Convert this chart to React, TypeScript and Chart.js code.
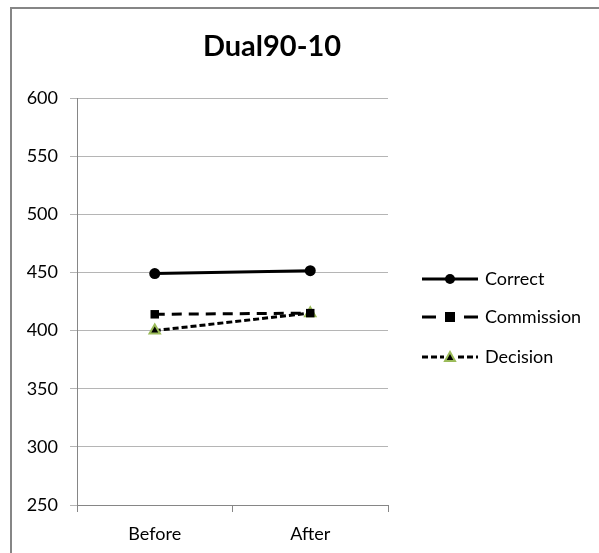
import React, { useEffect, useRef } from "react";
import { Chart, registerables } from "chart.js";

Chart.register(...registerables);

const categories = ["Before", "After"];
const correctValues = [449, 451.5];
const commissionValues = [414, 415];
const decisionValues = [400, 415];
const yTicks = { min: 250, max: 600, step: 50 };
const titleText = "Dual90-10";

const FONT = "Lato, 'Open Sans', sans-serif";

const framePlugin = {
  id: "frame",
  beforeDraw(chart: any) {
    const ctx = chart.ctx;
    ctx.save();
    ctx.fillStyle = "#ffffff";
    ctx.fillRect(0, 0, chart.width, chart.height);
    ctx.fillStyle = "#868686";
    ctx.fillRect(10, 7, 2, chart.height - 7);
    ctx.fillRect(10, 7, chart.width - 10, 2);
    ctx.restore();
  },
  afterDraw(chart: any) {
    const ctx = chart.ctx;
    ctx.save();
    ctx.fillStyle = "#000";
    ctx.font = `bold 29px ${FONT}`;
    ctx.textAlign = "center";
    ctx.textBaseline = "middle";
    ctx.fillText(titleText, 272, 47);

    const rows = [279, 317, 357];
    chart.data.datasets.forEach((ds: any, i: number) => {
      const y = rows[i];
      ctx.save();
      ctx.strokeStyle = ds.borderColor;
      ctx.lineWidth = ds.borderWidth;
      ctx.setLineDash(ds.legendDash || []);
      if (ds.legendMode === "split") {
        ctx.beginPath();
        ctx.moveTo(422, y);
        ctx.lineTo(436, y);
        ctx.moveTo(464, y);
        ctx.lineTo(478, y);
        ctx.stroke();
      } else {
        ctx.beginPath();
        ctx.moveTo(422, y);
        ctx.lineTo(478, y);
        ctx.stroke();
        if (ds.legendMode === "gap") {
          ctx.fillStyle = "#fff";
          ctx.fillRect(444, y - 7, 12, 14);
        }
      }
      ctx.setLineDash([]);
      ctx.fillStyle = ds.pointBackgroundColor;
      ctx.strokeStyle = ds.pointBorderColor;
      ctx.lineWidth = ds.pointBorderWidth;
      if (ds.pointStyle === "circle") {
        ctx.beginPath();
        ctx.arc(450, y, 5, 0, Math.PI * 2);
        ctx.fill();
      } else if (ds.pointStyle === "rect") {
        ctx.fillRect(445, y - 5, 10, 10);
      } else {
        ctx.beginPath();
        ctx.moveTo(450, y - 5);
        ctx.lineTo(455, y + 4);
        ctx.lineTo(445, y + 4);
        ctx.closePath();
        ctx.fill();
        ctx.stroke();
      }
      ctx.restore();
      ctx.fillStyle = "#000";
      ctx.font = `18px ${FONT}`;
      ctx.textAlign = "left";
      ctx.textBaseline = "middle";
      ctx.fillText(ds.label, 485, y);
    });
    ctx.restore();
  },
};

export default function App() {
  const ref = useRef<HTMLCanvasElement | null>(null);
  useEffect(() => {
    if (!ref.current) return;
    const chart = new Chart(ref.current, {
      type: "line",
      data: {
        labels: categories,
        datasets: [
          {
            label: "Correct",
            data: correctValues,
            borderColor: "#000",
            borderWidth: 3,
            pointStyle: "circle",
            pointRadius: 5.5,
            pointBackgroundColor: "#000",
            pointBorderColor: "#000",
            pointBorderWidth: 0,
            legendDash: [],
            legendMode: "solid",
          } as any,
          {
            label: "Commission",
            data: commissionValues,
            borderColor: "#000",
            borderWidth: 3,
            borderDash: [10, 7],
            pointStyle: "rect",
            pointRadius: 6,
            pointBackgroundColor: "#000",
            pointBorderColor: "#000",
            pointBorderWidth: 0,
            legendDash: [],
            legendMode: "split",
          } as any,
          {
            label: "Decision",
            data: decisionValues,
            borderColor: "#000",
            borderWidth: 3,
            borderDash: [6, 3],
            pointStyle: "triangle",
            pointRadius: 6,
            pointBackgroundColor: "#000",
            pointBorderColor: "#9BBB59",
            pointBorderWidth: 2,
            legendDash: [6, 3],
            legendMode: "gap",
          } as any,
        ],
      },
      options: {
        animation: false,
        responsive: false,
        maintainAspectRatio: false,
        layout: { padding: { left: 0, top: 98, right: 211, bottom: 0 } },
        plugins: {
          legend: { display: false },
          title: { display: false },
          tooltip: { enabled: false },
        },
        scales: {
          x: {
            afterFit: (s: any) => {
              s.height = 48;
            },
            offset: true,
            grid: {
              drawOnChartArea: false,
              drawTicks: true,
              tickLength: 7,
              color: "#868686",
              offset: true,
            },
            border: { display: true, color: "#868686", width: 1 },
            ticks: { color: "#000", font: { family: FONT, size: 18 }, padding: 11 },
          },
          y: {
            min: yTicks.min,
            max: yTicks.max,
            afterFit: (s: any) => {
              s.width = 77;
            },
            grid: { color: "#b5b5b5", tickLength: 7, drawTicks: true },
            border: { display: true, color: "#868686", width: 1 },
            ticks: {
              stepSize: yTicks.step,
              color: "#000",
              font: { family: FONT, size: 18 },
              padding: 12,
            },
          },
        },
      },
      plugins: [framePlugin],
    });
    return () => chart.destroy();
  }, []);
  return (
    <div style={{ position: "absolute", left: 0, top: 0, width: 599, height: 553 }}>
      <canvas ref={ref} width={599} height={553} />
    </div>
  );
}
